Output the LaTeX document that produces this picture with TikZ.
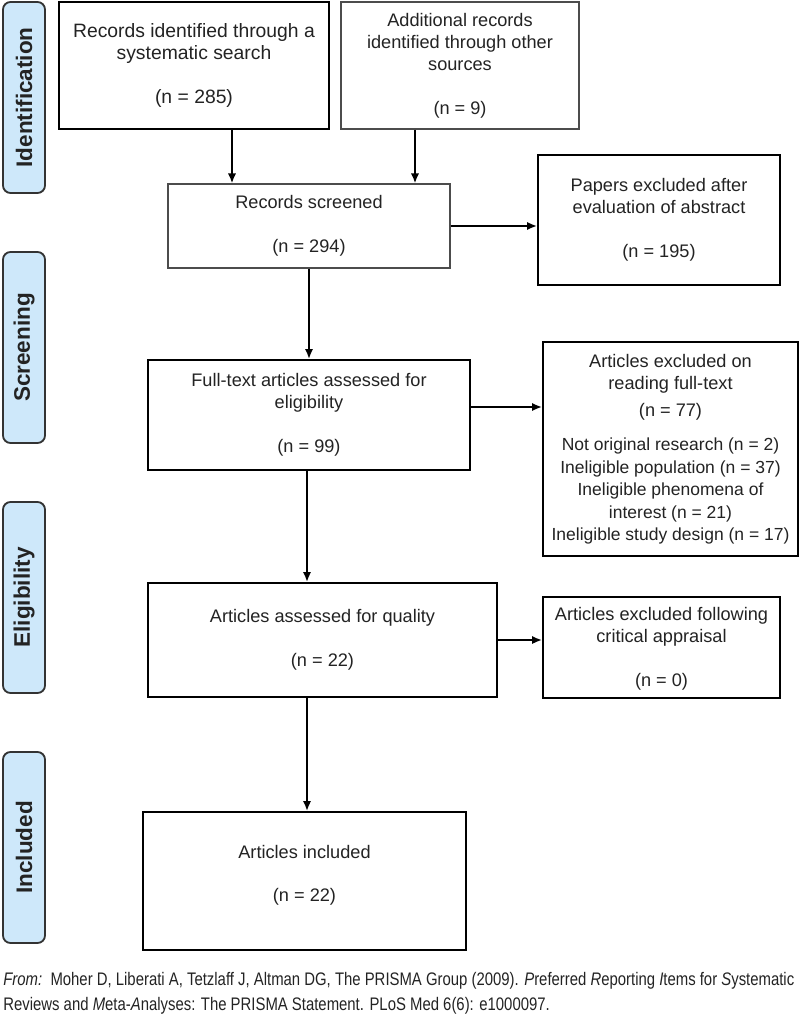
\documentclass[tikz,border=0pt]{standalone}
\usepackage{fontspec}
\setmainfont{Liberation Sans}
\newfontfamily\narrowsf{Liberation Sans}[FakeStretch=0.82]
\usetikzlibrary{calc,arrows.meta}
\definecolor{tabblue}{RGB}{206,232,250}
\definecolor{inkgray}{RGB}{35,35,35}
\newcommand\subline[1]{{\fontsize{10.5}{13.2}\selectfont #1}}

\begin{document}
\begin{tikzpicture}[x=0.6pt,y=-0.6pt,
    flowbox/.style={draw=black,line width=1.1pt,fill=white,align=center,inner sep=0pt,
      text=inkgray,font=\fontsize{10.9}{13.2}\selectfont},
    thinbox/.style={flowbox,draw=black!70,line width=0.7pt},
    size/.style 2 args={minimum width=#1*0.6pt,minimum height=#2*0.6pt},
    phase/.style={draw=black!80,line width=1.1pt,fill=tabblue,rounded corners=4.5pt,
      minimum width=114.6pt,minimum height=25.2pt,rotate=90,text=inkgray,
      font=\fontsize{13.5}{15}\selectfont\bfseries},
    arr/.style={-{Latex[length=6pt,width=5pt]},line width=1.5pt}]
    \useasboundingbox (0,0) rectangle (800,1018); % page frame

    % phase tabs on the left
    \node[phase] (ident) at (24,97.5) {Identification};
    \node[phase] (screen) at (24,347.5) {Screening};
    \node[phase] (elig) at (24,597.5) {Eligibility};
    \node[phase] (incl) at (24,847.5) {Included};

    % flow boxes
    \node[flowbox,size={270}{127},line width=1.4pt,font=\fontsize{11.6}{13.4}\selectfont] (search) at (194,65.5) {Records identified through a\\systematic search\\[13pt](n = 285)};
    \node[thinbox,size={238}{127}] (other) at (460,65.5) {Additional records\\identified through other\\sources\\[13pt](n = 9)};
    \node[thinbox,size={282}{84}] (screened) at (309,226) {Records screened\\[13pt](n = 294)};
    \node[flowbox,size={242}{130}] (abstract) at (659,220) {Papers excluded after\\evaluation of abstract\\[13pt](n = 195)};
    \node[flowbox,size={322}{110}] (fulltext) at (309,415) {Full-text articles assessed for\\eligibility\\[13pt](n = 99)};
    \node[flowbox,size={255}{214}] (fullexcl) at (670.5,449) {Articles excluded on\\reading full-text\\[3.5pt](n = 77)\\[7pt]%
      \subline{Not original research (n = 2)}\\[0.3pt]\subline{Ineligible population (n = 37)}\\[0.3pt]%
      \subline{Ineligible phenomena of}\\[0.3pt]\subline{interest (n = 21)}\\[0.3pt]\subline{Ineligible study design (n = 17)}};
    \node[flowbox,size={349}{114}] (quality) at (322.5,640) {Articles assessed for quality\\[13pt](n = 22)};
    \node[flowbox,size={237}{101}] (appraisal) at (661.5,647.5) {\mbox{}\\[-4pt]Articles excluded following\\critical appraisal\\[13pt](n = 0)};
    \node[flowbox,size={323}{138}] (included) at (304.5,881) {Articles included\\[13pt](n = 22)\\[-4pt]\mbox{}};

    % connectors
    \coordinate (s1) at ($(search.south)+(38,0)$);
    \coordinate (o1) at ($(other.south)+(-45,0)$);
    \coordinate (f1) at ($(fulltext.east)+(0,-8)$);
    \coordinate (f2) at ($(fulltext.south)+(-2,0)$);
    \coordinate (q1) at ($(quality.south)+(-15.5,0)$);
    \draw[arr] (s1) -- (s1 |- screened.north);
    \draw[arr] (o1) -- (o1 |- screened.north);
    \draw[arr] (screened.east) -- (screened.east -| abstract.west);
    \draw[arr] (screened.south) -- (screened.south |- fulltext.north);
    \draw[arr] (f1) -- (f1 -| fullexcl.west);
    \draw[arr] (f2) -- (f2 |- quality.north);
    \draw[arr] (quality.east) -- (quality.east -| appraisal.west);
    \draw[arr] (q1) -- (q1 |- included.north);

    % source line
    \node[anchor=base west,inner sep=0pt,text=inkgray,font=\narrowsf\fontsize{10.9}{13}\selectfont] (cite1) at (3,985)
      {\textit{From:}\ \ Moher D, Liberati A, Tetzlaff J, Altman DG, The PRISMA Group (2009). \textit{P}referred \textit{R}eporting \textit{I}tems for \textit{S}ystematic};
    \node[anchor=base west,inner sep=0pt,text=inkgray,font=\narrowsf\fontsize{10.9}{13}\selectfont] (cite2) at (3,1010)
      {Reviews and \textit{M}eta-\textit{A}nalyses: The PRISMA Statement. PLoS Med 6(6): e1000097.};
\end{tikzpicture}
\end{document}
